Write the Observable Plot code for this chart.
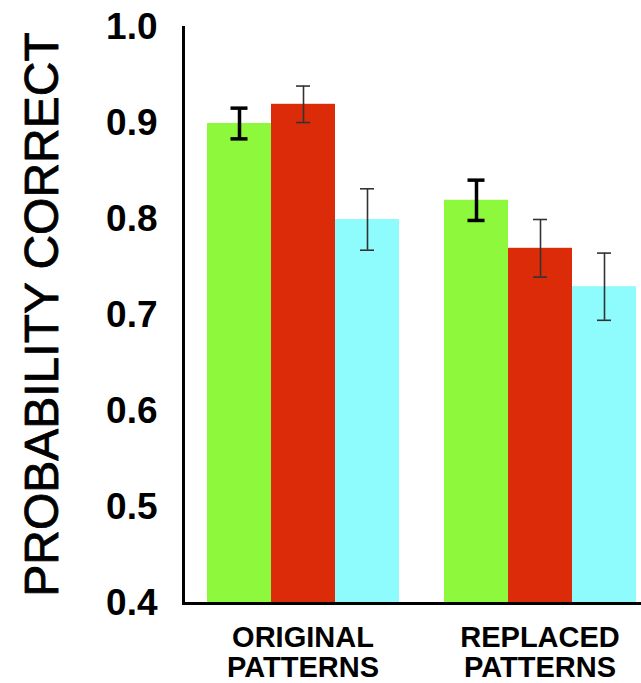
<!DOCTYPE html>
<html>
<head>
<meta charset="utf-8">
<script src="https://cdn.jsdelivr.net/npm/d3@7"></script>
<script src="https://cdn.jsdelivr.net/npm/@observablehq/plot@0.6"></script>
<style>
  html, body { margin: 0; padding: 0; background: #fff; }
</style>
</head>
<body>
<div id="chart"></div>
<script>
// ---- data ----
const groups = ["ORIGINAL\nPATTERNS", "REPLACED\nPATTERNS"];
const conditions = ["Condition 1", "Condition 2", "Condition 3"];
const originalValues = [0.90, 0.92, 0.80];
const originalErrors = [0.016, 0.019, 0.032];
const replacedValues = [0.82, 0.77, 0.73];
const replacedErrors = [0.021, 0.030, 0.035];
const yTicks = [0.4, 0.5, 0.6, 0.7, 0.8, 0.9, 1.0];
const yLabel = "PROBABILITY CORRECT";
const colors = ["#8ef83c", "#dc2b09", "#8efbfc"];

const valuesByGroup = [originalValues, replacedValues];
const errorsByGroup = [originalErrors, replacedErrors];
const data = groups.flatMap((g, gi) => conditions.map((c, ci) => ({
  group: g,
  cond: c,
  value: valuesByGroup[gi][ci],
  lo: valuesByGroup[gi][ci] - errorsByGroup[gi][ci],
  hi: valuesByGroup[gi][ci] + errorsByGroup[gi][ci]
})));
const yMin = yTicks[0];
const first = data.filter(d => d.cond === conditions[0]);
const rest = data.filter(d => d.cond !== conditions[0]);

const chart = Plot.plot({
  width: 641,
  height: 683,
  marginLeft: 183,
  marginRight: 0,
  marginTop: 27,
  marginBottom: 80,
  style: { fontFamily: "'Liberation Sans', Arial, sans-serif", background: "#fff", color: "#000" },
  fx: { domain: groups, paddingInner: 0.186, paddingOuter: 0.059, align: 0.82, axis: null },
  x: { domain: conditions, padding: 0, axis: null },
  y: { domain: [yMin, yTicks[yTicks.length - 1]], axis: null },
  color: { domain: conditions, range: colors },
  marks: [
    Plot.rectY(data, { fx: "group", x: "cond", y1: yMin, y2: "value", fill: "cond" }),
    // error bars, first condition (bold)
    Plot.ruleX(first, { fx: "group", x: "cond", y1: "lo", y2: "hi", stroke: "#000", strokeWidth: 3.5 }),
    Plot.tickY(first, { fx: "group", x: "cond", y: "lo", stroke: "#000", strokeWidth: 3.5, insetLeft: 23.5, insetRight: 23.5 }),
    Plot.tickY(first, { fx: "group", x: "cond", y: "hi", stroke: "#000", strokeWidth: 3.5, insetLeft: 23.5, insetRight: 23.5 }),
    // error bars, other conditions (thin)
    Plot.ruleX(rest, { fx: "group", x: "cond", y1: "lo", y2: "hi", stroke: "#333", strokeWidth: 1.6 }),
    Plot.tickY(rest, { fx: "group", x: "cond", y: "lo", stroke: "#333", strokeWidth: 1.6, insetLeft: 25, insetRight: 25 }),
    Plot.tickY(rest, { fx: "group", x: "cond", y: "hi", stroke: "#333", strokeWidth: 1.6, insetLeft: 25, insetRight: 25 }),
    // category labels
    Plot.text(groups, { fx: d => d, text: d => d, frameAnchor: "bottom", lineAnchor: "top", dy: 22, fontSize: 29, fontWeight: "bold", lineHeight: 1.035 }),
    // axes
    Plot.axisY(yTicks, { tickSize: 0, tickPadding: 49, tickFormat: d3.format(".1f"), fontSize: 37, fontWeight: "bold", label: null }),
    Plot.frame({ anchor: "bottom", facet: "super", stroke: "#000", strokeWidth: 3, insetLeft: -23, insetRight: -5 }),
    Plot.frame({ anchor: "left", facet: "super", stroke: "#000", strokeWidth: 3, insetLeft: -23 }),
    Plot.text([yLabel], { facet: "super", frameAnchor: "left", rotate: -90, dx: -164, dy: -1, fontSize: 48, textAnchor: "middle", lineAnchor: "middle", fill: "#000", stroke: "#000", strokeWidth: 0.8 })
  ]
});
document.getElementById("chart").appendChild(chart);
</script>
</body>
</html>
